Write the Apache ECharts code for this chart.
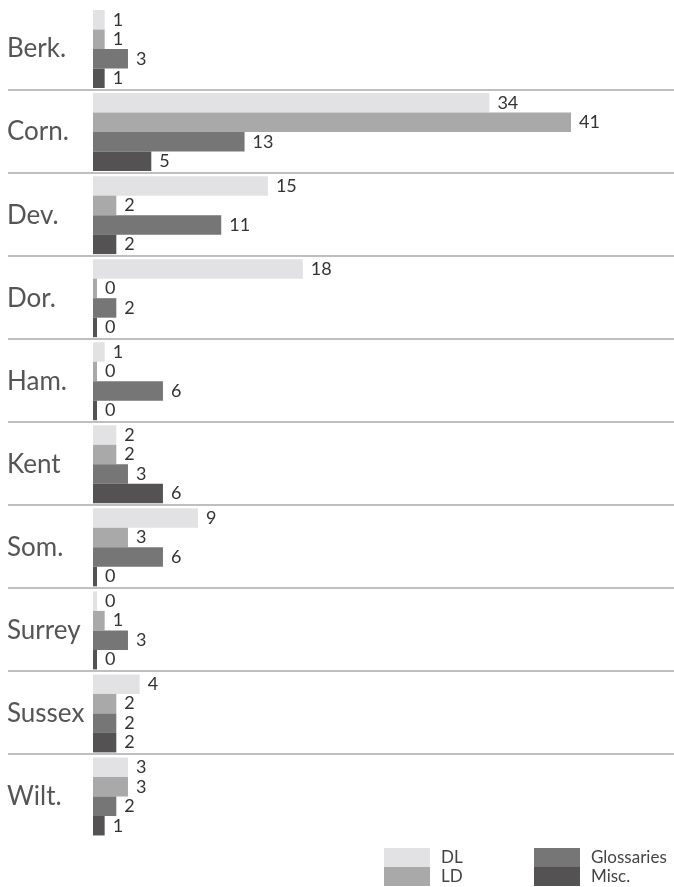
<!DOCTYPE html>
<html><head><meta charset="utf-8">
<script src="https://cdn.jsdelivr.net/npm/echarts@6/dist/echarts.min.js"></script>
<style>html,body{margin:0;padding:0;background:#fff}#c{width:674px;height:887px}</style>
</head><body><div id="c"></div>
<script>
const categories = ['Berk.','Corn.','Dev.','Dor.','Ham.','Kent','Som.','Surrey','Sussex','Wilt.'];
const seriesNames = ['DL','LD','Glossaries','Misc.'];
const dl = [1,34,15,18,1,2,9,0,4,3];
const ld = [1,41,2,0,0,2,3,1,2,3];
const glossaries = [3,13,11,2,6,3,6,3,2,2];
const misc = [1,5,2,0,0,6,0,0,2,1];
const colors = ['#e2e2e4','#a9a9a9','#767676','#545252'];
const FONT = 'Lato';

const chart = echarts.init(document.getElementById('c'), null, {renderer:'canvas'});
const values = [dl, ld, glossaries, misc];
const series = seriesNames.map((n,i)=>({
  name:n, type:'bar', xAxisIndex:0, yAxisIndex:0,
  data: values[i], barWidth:19.5, barGap:'0%', barMinHeight:4,
  itemStyle:{color:colors[i]},
  label:{show:true, position:'right', distance:8, fontSize:18, color:'#333', fontFamily:FONT},
  z:3
}));
const legendText = {fontSize:17, color:'#444', fontFamily:FONT, lineHeight:19, padding:[0,0,0,6]};
chart.setOption({
  animation:false,
  color: colors,
  grid:[
    {left:93, right:103, top:7.5, bottom:49, containLabel:false},
    {left:8, right:0, top:6.4, bottom:50, containLabel:false}
  ],
  xAxis:[
    {type:'value', gridIndex:0, min:0, max:41, show:false},
    {type:'value', gridIndex:1, min:0, max:1, show:false}
  ],
  yAxis:[
    {type:'category', gridIndex:0, data:categories, inverse:true,
     axisLine:{show:false}, axisTick:{show:false}, splitLine:{show:false},
     axisLabel:{align:'left', margin:86, fontSize:26, color:'#555', fontFamily:FONT}},
    {type:'category', gridIndex:1, data:categories, inverse:true,
     axisLine:{show:false}, axisTick:{show:false}, axisLabel:{show:false},
     splitLine:{show:true, interval:0, showMinLine:false, showMaxLine:false,
       lineStyle:{color:'#aaaaaa', width:1.5}}}
  ],
  legend:[
    {data:['DL','LD'], orient:'vertical', left:384, top:848, padding:0, itemWidth:46, itemHeight:19, itemGap:0,
     icon:'rect', selectedMode:false, textStyle:legendText},
    {data:['Glossaries','Misc.'], orient:'vertical', left:534, top:848, padding:0, itemWidth:46, itemHeight:19, itemGap:0,
     icon:'rect', selectedMode:false, textStyle:legendText}
  ],
  series: series
});
</script></body></html>
